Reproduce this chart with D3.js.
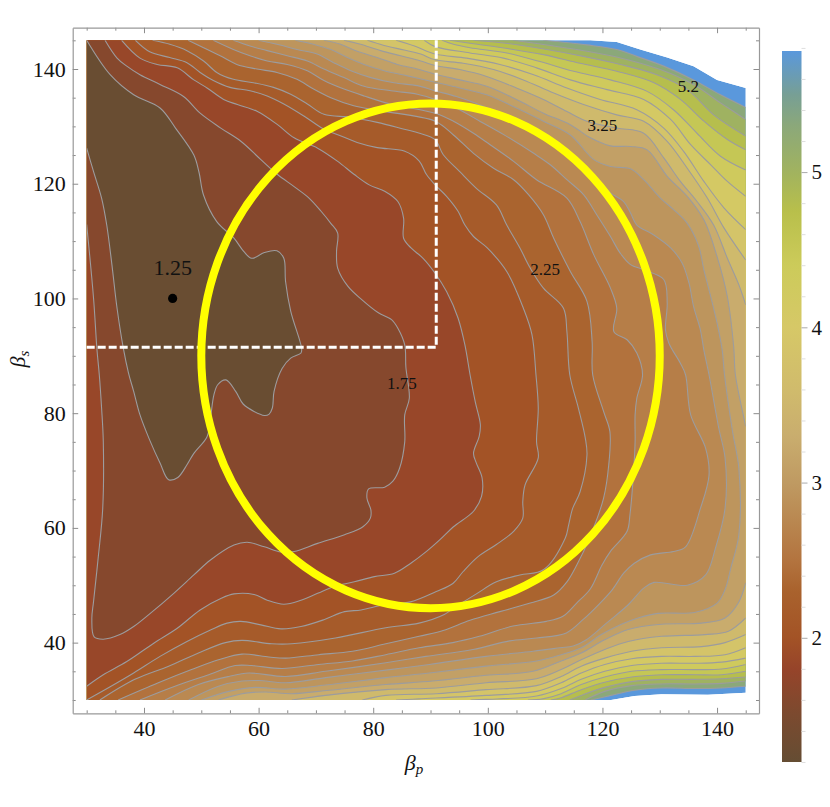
<!DOCTYPE html>
<html><head><meta charset="utf-8">
<script src="https://cdn.jsdelivr.net/npm/d3@7"></script>
<style>
html,body{margin:0;padding:0;background:#fff}
svg{display:block}
text{font-family:"Liberation Serif",serif;fill:#111}
</style></head><body><svg id="c" width="830" height="807"></svg>
<script>
// ---------- DATA ([beta_p, beta_s]) ----------
const xMajor=[40,60,80,100,120,140];
const yMajor=[40,60,80,100,120,140];
const axisMinor=[30,35,45,50,55,65,70,75,85,90,95,105,110,115,125,130,135,145];
const barMajor=[2,3,4,5];
const barMinor=[1.2,1.4,1.6,1.8,2.2,2.4,2.6,2.8,3.2,3.4,3.6,3.8,4.2,4.4,4.6,4.8,5.2,5.4,5.6,5.8];
const colorValues=[1.2,1.5,1.8,2.0,2.3,2.5,2.75,3.0,3.3,3.6,4.0,4.4,4.75,5.0,5.3,5.5,5.78];
const colorStops=["#654d33","#7b4a2f","#96442a","#a35326","#a9622d","#b3743f","#b98750","#bf9a62","#c9ad6e","#d0bb6c","#d6c867","#cccb5a","#b8bf4b","#a1b35f","#8ba87a","#779f95","#5a98dc"];
const contourLevels=[1.5,1.75,1.92,2.08,2.25,2.4,2.55,2.7,2.85,3.02,3.17,3.4,3.75,4.0,4.2,4.4,4.65,4.9,5.15,5.45];
const domainEdge=[[30,30],[121.5,30],[125.6,30.7],[130.3,31],[138.4,30.9],[145,31.25],[145,136.7],[140,138.1],[135.9,140.5],[131.3,142],[126.6,143.4],[122.5,144.7],[117.9,145],[30,145]];
const L01=[[[30,145],[34.1,139],[38.2,135.5],[42.8,133.2],[45.5,129.7],[48.7,125],[49.6,122],[50.4,118],[52.7,113.4],[55.7,110.5],[57.4,108.2],[58.8,107],[61,108],[63.2,108.3],[64.4,107],[64.7,103],[65.6,97.8],[67.5,91.3],[67.4,90.5],[65.6,89.6],[64.1,87.8],[62.7,83.8],[62.4,80.9],[61.8,79.8],[61,79.6],[59.2,80.3],[57.3,81.6],[56,83.8],[54.3,85.8],[52.9,85],[52.2,83.2],[51.6,79.1],[51,75.9],[48.7,73],[47.5,71],[45.9,68.8],[44.3,68.4],[42.8,71.3],[41,75.3],[39.3,79.7],[38.2,83.8],[37.3,87],[36.4,91.3],[35.3,98.3],[34.4,105.9],[33.5,112.8],[32.6,117.5],[31.2,122.1],[30,126.2]]];
const L02=[[[30,112.9],[31.2,100],[31.8,91],[32.2,86.7],[32.6,80.9],[32.9,75],[32.8,63.4],[32,54.7],[31.2,47.2],[30.9,44.2],[31.3,41],[32.9,40.6],[35.8,41.4],[38.2,42.8],[41.1,45.1],[45.2,48.6],[48.7,51.8],[51.6,54.4],[55.7,57],[58,57.5],[61,56.7],[63.9,55.8],[66.2,55.9],[70.3,57.3],[75,58.8],[78.2,60.2],[79.5,61.7],[79.6,63.1],[78.9,65.2],[79.2,66.8],[82,67.1],[83.4,68.1],[84.6,70.4],[85.5,75],[85.5,79.7],[86.3,82.6],[85.7,88],[85.5,91.9],[84.3,94.8],[83.2,96.3],[80.9,97.5],[78,99.8],[75.6,102.1],[73.8,105.3],[73.6,108.2],[73.8,111.4],[72.6,113.1],[70.9,115.2],[68.8,117.5],[66.2,119.5],[63.3,121.6],[60.4,124.2],[56.9,127.4],[53.4,129.7],[49.8,132.3],[46.9,135.2],[42.8,137.3],[39.3,139],[37,140.5],[35.3,141.9],[33.2,145]]];
const L03=[[[36.1,145],[39.3,141.9],[42.3,140.8],[45.8,140.2],[48.7,138.1],[51,136.7],[53.9,134.7],[56.3,133.8],[59.8,132.6],[63.3,130.3],[66.2,128],[70.3,126.2],[73.8,123.9],[76.7,121.6],[79.3,119.8],[82,118.7],[84.3,116.9],[85.3,114],[85.3,110.5],[86.6,108.8],[88.7,107],[90.8,104.4],[92.8,101.2],[94.8,96.6],[96,91.9],[96.9,86.7],[97.8,82],[98.7,78],[98.5,76],[97.5,73],[98,71.3],[99,68.7],[98.9,65.5],[97.5,62.9],[94,60.2],[91.6,57.9],[89.3,55.9],[86.5,53.8],[83.7,52.1],[80.2,51.5],[76.7,50.6],[73.2,49.8],[70.3,48.6],[67.4,47.4],[64.4,46.7],[61.5,47.4],[59.2,48.4],[55.7,48.5],[53.4,47.7],[49.8,45.7],[45.8,42.5],[41.7,39.9],[37,36.7],[32.9,34.4],[30,32.4]]];
const L04=[[[38.5,145],[41,143],[44.5,142],[47.5,141.1],[49.8,139.4],[52.1,138],[55,136.8],[58.5,136.2],[61.5,135.3],[64.4,133.9],[67.9,131.8],[71.4,129.5],[73.7,128.6],[77.2,127.2],[80.7,126.3],[85.4,125.7],[88,124],[89.3,121.6],[90.8,119.8],[92.8,117.8],[94.8,115.2],[96,112.8],[97.5,110.8],[99.9,108.8],[103.3,104.7],[106.2,98.3],[107.7,93.7],[108.4,86.7],[108.8,80.9],[108.5,75],[108.8,72.2],[106.5,67.5],[106.1,64.6],[106.1,61.7],[104.5,59.4],[101.5,57.1],[98.3,55],[95.7,52.4],[93.9,50.3],[91,48.9],[86.5,47.1],[81.9,46.6],[77.9,45.7],[75,45.4],[71.4,44],[67.4,42.8],[63.9,42.4],[60.4,43.1],[56.9,43.7],[54.5,43.4],[51.6,42.2],[47.5,40.2],[42.8,37.6],[38.2,34.7],[34.1,32.3],[30,30]]];
const L05=[[[41.5,145],[44.5,144.3],[47.5,143.2],[50.4,141.4],[52.7,139.4],[55.6,138.2],[59.1,137.6],[62.6,136.8],[65.6,135.6],[68.5,133.9],[71.4,132.1],[76,131.6],[80.7,130.7],[85.4,129.5],[88.1,128.8],[90.8,127.7],[92.2,125.1],[95.1,122.1],[98,119.2],[101.5,116.3],[103.3,112.8],[105.6,108.8],[107.4,105.3],[109.7,101.8],[113.2,98.3],[113.8,94.2],[114.3,86.7],[115.8,80.9],[117,75.7],[117.3,72.7],[116.1,66.3],[114.8,63.4],[114.1,60.5],[113.5,58.2],[109.7,52.7],[105.6,51.8],[101.5,50.6],[98,48.5],[94,46],[92.4,44.9],[88,43.4],[82.2,42.6],[73.4,40.8],[65.8,39.8],[62.3,39.8],[57.1,40.4],[54.2,40],[49.5,38.2],[44.3,35.9],[38.4,33.6],[32.3,30]]];
const L06=[[[47.7,145],[50.4,143.7],[53.3,142.3],[56.2,140.8],[59.7,140],[63.2,139.4],[66.7,138.2],[69.6,136.5],[72.6,135],[76.6,133.6],[81.3,132.7],[90.8,130.9],[94,128.5],[97.5,125.3],[101,122.7],[104.5,120.7],[107.1,118.1],[109.7,114.6],[111.5,110.5],[114.4,104.7],[117.3,99.5],[118.2,92.5],[118.3,86.7],[120.2,80.3],[121.3,76.8],[121.1,71],[120.2,65.2],[117.6,57.9],[115.5,53.5],[113.8,50.6],[111.5,48.3],[107.4,46.9],[102.1,45.4],[96.9,43.9],[92.2,42.1],[88,41.1],[82.2,39.8],[76.4,38.5],[70.5,37.9],[64.7,37.3],[61.8,37.5],[57.1,38],[53,37],[48.3,35.3],[42.5,33],[35.5,30]]];
const L07=[[[52.1,145],[55.6,143.4],[58.5,142.3],[61.5,141.4],[65,140.8],[68.5,139.7],[71.4,138],[74.9,136.5],[78.4,135.3],[83,133.9],[90.8,132.3],[94,130.9],[97.5,128.8],[100.4,126.8],[104.5,123.9],[108.5,120.7],[113.8,117.5],[116.1,113.4],[118.5,107.6],[121.4,101.8],[122.5,98.3],[122,94.2],[124.3,92.8],[126,90.5],[127,86.7],[126,82.6],[125.7,79.7],[125.7,75],[125.4,69.2],[124.8,62.3],[124.3,59.4],[121.4,55.9],[119.9,53.5],[117.9,49.4],[115.5,46.9],[113.1,44.6],[110.2,43.7],[104.4,42.9],[98.5,41.1],[93.9,40],[88,39.1],[82.2,37.9],[76.4,36.8],[70.5,36.2],[64.1,35.5],[58.8,36],[55.9,36],[51.3,34.4],[45.4,32.4],[39.3,30]]];
const L08=[[[55.6,145],[58.5,144],[61.5,143.2],[65,142.3],[68.5,141.4],[71.4,140],[74.9,138.5],[78.4,137],[83.1,136.2],[87.7,135.6],[90.8,134.7],[94.5,133.2],[98.6,130.9],[102.7,128.6],[108,125.3],[110.9,123.3],[113.8,120.7],[116.7,118.1],[119,114.6],[121.4,110.8],[123.1,107.9],[124.9,105.9],[127.2,105],[130.7,103.3],[131.3,99.2],[131,94.5],[131.6,92.2],[133.6,88.7],[134.5,86.7],[135.4,79.7],[138,73.9],[138.6,69.2],[137.1,63.4],[134.5,56.7],[132.4,55.9],[128.4,55.3],[125.5,53.8],[123.7,52.1],[121.7,49.2],[119.6,46.9],[116.6,44],[113.7,41.7],[108.5,40.8],[103.8,40.3],[97.4,38.8],[89.2,37.6],[82.2,36.5],[71.7,35],[64.7,34.1],[58.3,34.7],[54.8,34.1],[49.5,32.7],[43.7,30]]];
const L09=[[[60,145],[63.2,144.3],[66.7,143.4],[70.2,142.6],[73.1,141.1],[76.1,139.7],[79.6,138.5],[83.6,137.6],[87.7,137.1],[90.8,136.2],[94.5,135.2],[99.2,133.5],[103.9,131.2],[108.5,128.5],[112.6,125.9],[116.7,122.7],[119,120.7],[121.4,118.4],[123.7,116.9],[124.9,114.9],[126,112.8],[128.9,111.1],[131.9,108.8],[133.9,106.2],[135.1,102.7],[135.9,98.6],[137.1,94.5],[137.7,91],[138.6,86.7],[140.3,77.4],[141.4,72.2],[141.4,63.4],[139.7,56.4],[138,51.8],[134.8,50],[129,50.5],[127.2,49.5],[124.5,46.6],[120.7,43.4],[117.2,40.5],[114.9,39.4],[112.6,39.1],[107.9,38.5],[99.7,37.6],[89.8,36.2],[82.2,35.2],[71.7,33.9],[64.7,33],[60,33.4],[57.1,33.3],[53,32.4],[47.8,30]]];
const L10=[[[66.4,145],[69.6,144.3],[72.6,143.4],[75.5,142],[78.4,140.8],[81.9,139.7],[86,138.8],[90.8,137.7],[95.1,136.7],[99.8,135.5],[105,133.2],[109.7,130.9],[114.4,128.5],[118.5,124.2],[121.4,123],[124.9,122.6],[127.2,120.7],[130.1,117.5],[132.4,115.5],[134.8,113.1],[136.8,109.1],[137.7,105],[138.9,100.3],[140,95.7],[140.9,91],[141.3,86.7],[142.7,76.8],[143.8,70.4],[143.8,58.8],[142.4,53],[141.4,49.25],[140,46.9],[136.2,45.3],[129.7,45.1],[126.2,44.3],[123.3,43.2],[119.8,41.4],[116.3,39.1],[112.8,37.9],[108.5,36.8],[99.7,35.9],[89.8,34.7],[82.2,33.9],[71.7,32.6],[64.7,31.9],[59.4,32.2],[54.8,31.5],[50,30]]];
const L11=[[[71.4,145],[74.3,144.3],[77.2,143.1],[80.7,142],[84.2,140.8],[87.7,140],[90.8,139.1],[95.1,138.1],[99.8,137],[105,134.7],[109.7,132.3],[114.4,130.3],[117.9,128],[121.4,126.6],[124.9,126.5],[127.8,125.9],[131.3,121.3],[134.8,117.8],[137.7,113.7],[140,107.3],[141.8,100.3],[142.9,91.6],[143.2,86.7],[144.7,79.1],[145,77.7]],[[145,50.4],[143.7,46.9],[141.4,44.3],[137.3,43.4],[130.3,43.2],[124.5,42.3],[120.4,40.5],[116.3,38.2],[112.8,36.8],[107.9,35],[99.7,34.3],[90.4,33.3],[82.2,32.7],[72.3,31.7],[65.8,31.1],[61.2,31.4],[57.7,31.2],[53,30]]];
const L12=[[[74.9,145],[77.8,144.3],[81.3,143.2],[84.8,142.3],[88.3,141.4],[90.8,140.6],[95.1,139.9],[99.8,138.7],[105,136.7],[109.7,134.7],[113.8,132.6],[117.3,130.9],[122.5,129.7],[127.2,128.8],[130.7,124.5],[133.6,120.4],[136.5,116.9],[139.4,112.8],[141.8,107],[143.8,102.4],[145,98.9]],[[145,44.3],[142,42],[137.9,41.4],[130.3,41.1],[124.5,40.2],[120.4,38.8],[116.3,37],[112.8,35.3],[108.5,33.7],[99.7,33],[91,32.1],[82.2,31.8],[71.7,30.8],[65.8,30]]];
const L13=[[[79,145],[81.9,144.1],[85.4,143.3],[88.3,142.6],[90.8,141.6],[95.7,141],[101,139.9],[106.2,138.1],[111.5,135.8],[116.7,133.8],[122.5,132],[127.2,130.9],[131.3,127.4],[134.8,122.7],[138.3,117.5],[141.2,112.3],[145,106.7]],[[145,41.4],[141.4,40],[137.3,39.3],[130.3,39.1],[125.1,38.5],[120.4,37.3],[116.3,35.9],[112.8,34.1],[108.5,32.5],[99.7,31.8],[91,31.1],[82.2,30.8],[78.1,30]]];
const L14=[[[84,145],[87.2,144],[90.8,142.6],[96.3,141.9],[102.1,140.8],[108,139],[113.8,136.7],[119.6,134.7],[126,132.9],[130.7,129.7],[134.2,125.6],[137.7,120.4],[141.2,115.8],[145,112]],[[145,39.1],[141.4,37.9],[136.2,37.6],[130.3,37.6],[125.1,37.2],[120.4,36.2],[116.3,34.7],[112.8,33],[108.5,31.5],[99.7,30.8],[88,30.2],[84,30]]];
const L15=[[[88.9,145],[90.8,143.9],[96.9,142.8],[102.7,141.9],[108.5,140.2],[114.4,138.1],[120.8,136.4],[127.2,134.7],[131.9,131.2],[135.4,126.8],[138.9,123.3],[141.8,120.4],[145,117.8]],[[145,37.3],[140.8,36.6],[136.2,36.4],[130.3,36.4],[125.1,36],[120.4,35],[116.3,33.6],[112.8,32],[108.5,30.7],[99.7,30.1],[97,30]]];
const L16=[[[92,145],[94,144.3],[96.9,143.7],[103.3,142.8],[109.1,141.3],[115,139.6],[121.4,138.1],[127.8,136.1],[132.4,132.9],[136.5,128.8],[140.6,124.8],[145,122.4]],[[145,36.2],[140.8,35.4],[136.2,35.3],[130.3,35.3],[125.1,35],[120.4,34],[116.3,32.7],[112.8,31.1],[109.6,30.2],[107,30]]];
const L17=[[[93.4,145],[97.5,144.4],[103.9,143.5],[109.7,142.5],[116.1,141],[122.5,139.6],[129,137.6],[133.6,134.7],[137.7,130.9],[141.8,127.7],[145,125.9]],[[145,35],[140.8,34.4],[136.2,34.4],[130.3,34.4],[125.1,34],[120.4,33.1],[116.3,31.8],[112.8,30.4],[111,30]]];
const L18=[[[97.5,145],[103.9,144.4],[110.3,143.4],[116.7,142.2],[123.1,140.8],[129.5,139],[134.8,136.4],[139.4,132],[145,128.3]],[[145,34],[140.8,33.7],[136.2,33.6],[130.3,33.6],[125.1,33.2],[120.4,32.2],[116.3,30.8],[114.3,30]]];
const L19=[[[104.4,145],[110.9,144.1],[117.3,143.1],[123.7,141.8],[130.1,139.9],[135.9,137.3],[140.6,134.1],[145,131.2]],[[145,33.3],[140.8,32.9],[136.2,32.8],[130.3,32.8],[125.1,32.5],[120.4,31.5],[117,30]]];
const L20=[[[109.7,145],[117.3,144.2],[122.5,143.4],[126,142.2],[130.7,140.5],[135.9,138.1],[140.6,135.5],[145,133.3]],[[145,32.4],[140.8,32.1],[136.2,32],[130.3,32.1],[125.6,31.7],[121.5,30.8],[118,30]]];
const contourLines=[L01,L02,L03,L04,L05,L06,L07,L08,L09,L10,L11,L12,L13,L14,L15,L16,L17,L18,L19,L20];
const peakPoint=[45,100];
const peakLabel="1.25";
const lineLabels=[["1.75",85,85],["2.25",110,105],["3.25",120,130],["5.2",135,136.9]];
const region={cx:90,cy:90,rx:40,ry:44};
const cut={p:91,s:91.5};

// ---------- SCALES ----------
const svg=d3.select("#c");
const x=d3.scaleLinear().domain([27.56,147.32]).range([72.7,759]);
const y=d3.scaleLinear().domain([27.68,147.2]).range([713.3,27.7]);
const bar=d3.scaleLinear().domain([1.2,5.78]).range([762,51]);
const colour=d3.scaleLinear().domain(colorValues).range(colorStops).interpolate(d3.interpolateRgb);
const line=d3.line().x(d=>x(d[0])).y(d=>y(d[1])).curve(d3.curveCatmullRom.alpha(0.5));
const poly=pts=>"M"+pts.map(d=>x(d[0])+","+y(d[1])).join("L")+"Z";

// ---------- FIELD ----------
svg.append("defs").append("clipPath").attr("id","dom").append("path").attr("d",poly(domainEdge));
const field=svg.append("g").attr("clip-path","url(#dom)");
field.append("path").attr("d",poly(domainEdge)).attr("fill",colour(5.78));
for(let i=contourLines.length-1;i>=0;i--){
  const segs=contourLines[i];
  const last=segs[segs.length-1][segs[segs.length-1].length-1];
  const tail=last[1]===30?[[30,30],[30,145]]:[[30,145]];
  let d=segs.map((s,k)=>{const p=line(s);return k?"L"+p.slice(1):p;}).join("");
  d+=tail.map(c=>"L"+x(c[0])+","+y(c[1])).join("")+"Z";
  const mid=i?(contourLevels[i-1]+contourLevels[i])/2:1.25;
  field.append("path").attr("d",d).attr("fill",colour(mid));
}
contourLines.forEach(segs=>segs.forEach(s=>{
  field.append("path").attr("d",line(s)).attr("fill","none").attr("stroke","#9c9c9e").attr("stroke-width",1.1);
}));

// ---------- OVERLAYS ----------
svg.append("path").attr("fill","none").attr("stroke","#fff").attr("stroke-width",3).attr("stroke-dasharray","8,3")
  .attr("d",`M${x(30)},${y(cut.s)}L${x(cut.p)},${y(cut.s)}L${x(cut.p)},${y(145)}`);
svg.append("ellipse").attr("cx",x(region.cx)).attr("cy",y(region.cy))
  .attr("rx",x(region.cx+region.rx)-x(region.cx)).attr("ry",y(region.cy-region.ry)-y(region.cy))
  .attr("fill","none").attr("stroke","#ffff00").attr("stroke-width",8);
svg.append("circle").attr("cx",x(peakPoint[0])).attr("cy",y(peakPoint[1])).attr("r",4.6).attr("fill","#000");
svg.append("text").attr("x",x(peakPoint[0])).attr("y",y(peakPoint[1])-23).attr("text-anchor","middle").attr("font-size",22).text(peakLabel);
lineLabels.forEach(l=>svg.append("text").attr("x",x(l[1])).attr("y",y(l[2])+5).attr("text-anchor","middle").attr("font-size",17).text(l[0]));

// ---------- AXES ----------
const fmt=d3.format("d");
function drawAxis(maker,scale,tr,labels){
  const g=svg.append("g").attr("transform",tr);
  g.call(maker(scale).tickValues(axisMinor).tickSize(-3).tickSizeOuter(0).tickFormat(""));
  g.call(g2=>g2.selectAll(".tick line").attr("stroke","#8c8c8c"));
  const g3=svg.append("g").attr("transform",tr);
  g3.call(maker(scale).tickValues(xMajor).tickSize(-5.5).tickSizeOuter(0).tickPadding(7).tickFormat(labels?fmt:""));
  g3.selectAll(".tick line").attr("stroke","#8c8c8c");
  g3.select(".domain").attr("stroke","#999").attr("stroke-width",1.2);
  g.select(".domain").attr("stroke","none");
  g3.selectAll("text").attr("font-size",22).attr("font-family","Liberation Serif").attr("fill","#111");
}
drawAxis(d3.axisBottom,x,`translate(0,${y.range()[0]})`,true);
drawAxis(d3.axisTop,x,`translate(0,${y.range()[1]})`,false);
drawAxis(d3.axisLeft,y,`translate(${x.range()[0]},0)`,true);
drawAxis(d3.axisRight,y,`translate(${x.range()[1]},0)`,false);

const xl=svg.append("text").attr("x",414).attr("y",770).attr("text-anchor","middle").attr("font-size",22);
xl.append("tspan").attr("font-style","italic").text("β");
xl.append("tspan").attr("font-style","italic").attr("font-size",15).attr("dy",4).text("p");
const yl=svg.append("text").attr("transform","translate(25,359) rotate(-90)").attr("text-anchor","middle").attr("font-size",22);
yl.append("tspan").attr("font-style","italic").text("β");
yl.append("tspan").attr("font-style","italic").attr("font-size",15).attr("dy",4).text("s");

// ---------- COLOUR BAR ----------
const grad=svg.select("defs").append("linearGradient").attr("id","cb").attr("x1",0).attr("x2",0).attr("y1",1).attr("y2",0);
colorValues.forEach((v,i)=>grad.append("stop").attr("offset",(v-1.2)/(5.78-1.2)).attr("stop-color",colorStops[i]));
svg.append("rect").attr("x",782).attr("width",19.5).attr("y",bar(5.78)).attr("height",bar(1.2)-bar(5.78)).attr("fill","url(#cb)");
const bx=svg.append("g").attr("transform","translate(801.5,0)");
bx.call(d3.axisRight(bar).tickValues(barMinor).tickSize(4).tickSizeOuter(0).tickFormat(""));
bx.selectAll(".tick line").attr("stroke","#dedede"); bx.select(".domain").attr("stroke","none");
const bx2=svg.append("g").attr("transform","translate(801.5,0)");
bx2.call(d3.axisRight(bar).tickValues(barMajor).tickSize(6).tickSizeOuter(0).tickPadding(4).tickFormat(fmt));
bx2.selectAll(".tick line").attr("stroke","#aaa"); bx2.select(".domain").attr("stroke","none");
bx2.selectAll("text").attr("font-size",21).attr("font-family","Liberation Serif").attr("fill","#111");
</script></body></html>
